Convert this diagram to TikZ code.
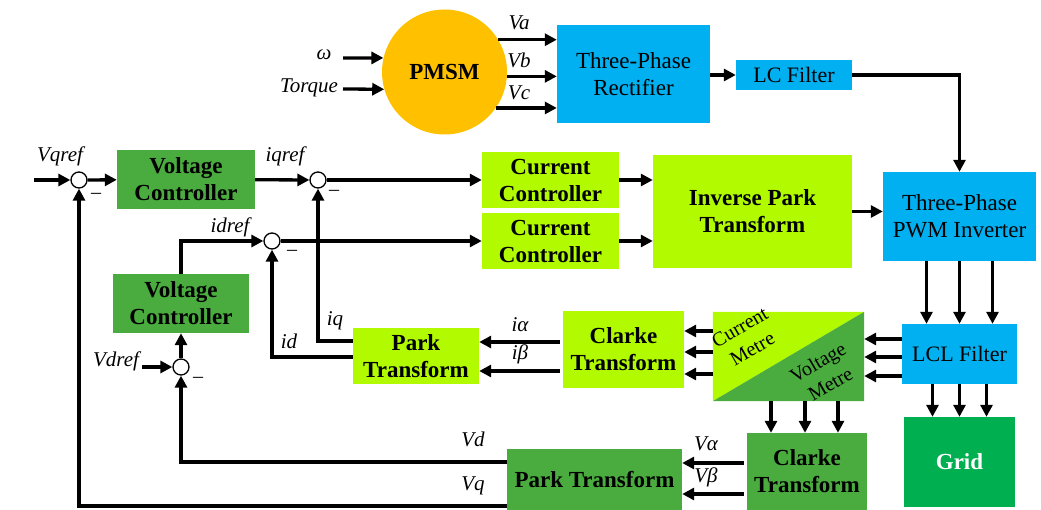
\documentclass[tikz,border=0pt]{standalone}
\usepackage{fontspec}
\setmainfont{Liberation Serif}
\usetikzlibrary{arrows.meta}
\definecolor{cblue}{RGB}{0,176,240}
\definecolor{corange}{RGB}{255,192,0}
\definecolor{clight}{RGB}{178,250,0}
\definecolor{cdark}{RGB}{74,172,62}
\definecolor{cgrid}{RGB}{0,176,80}
\begin{document}
\begin{tikzpicture}[x=1pt,y=-1pt,
  bb/.style={draw=none, inner sep=0pt, align=center, font=\fontsize{23}{27}\selectfont\bfseries},
  nb/.style={draw=none, inner sep=0pt, align=center, font=\fontsize{23}{27}\selectfont},
  lbl/.style={inner sep=0pt, font=\fontsize{21}{23}\selectfont\itshape},
  arr/.style={line width=3.3pt, -{Triangle[length=12pt,width=12pt]}},
  sumj/.style={circle, draw, line width=1.3pt, fill=white, minimum size=16pt, inner sep=0pt},
  mns/.style={inner sep=0pt, font=\fontsize{20}{22}\selectfont}]
\useasboundingbox (0,0) rectangle (1041,510);

% ---- blocks
\node[bb, circle, fill=corange, minimum size=125pt] (pm) at (444.5,72) {PMSM};
\node[nb, fill=cblue, minimum width=153pt, minimum height=98pt] (rect) at (633.5,74) {Three-Phase\\Rectifier};
\node[nb, fill=cblue, minimum width=116pt, minimum height=30pt, font=\fontsize{22}{26}\selectfont] (lcf) at (794,75) {LC Filter};
\node[nb, fill=cblue, minimum width=153pt, minimum height=89pt] (inv) at (959.5,216.5) {Three-Phase\\PWM Inverter};
\node[bb, fill=clight, minimum width=199pt, minimum height=113pt] (ipt) at (752.5,211.5) {Inverse Park\\Transform};
\node[bb, fill=clight, minimum width=137pt, minimum height=56pt] (cc1) at (550.5,180) {Current\\Controller};
\node[bb, fill=clight, minimum width=137pt, minimum height=56pt] (cc2) at (550.5,241) {Current\\Controller};
\node[bb, fill=cdark, minimum width=138pt, minimum height=59pt] (vc1) at (186,179.5) {Voltage\\Controller};
\node[bb, fill=cdark, minimum width=136pt, minimum height=59pt] (vc2) at (181,303.5) {Voltage\\Controller};
\node[bb, fill=clight, minimum width=126pt, minimum height=56pt] (park1) at (416,356) {Park\\Transform};
\node[bb, fill=clight, minimum width=121pt, minimum height=77pt] (clarke1) at (623.5,349.5) {Clarke\\Transform};
\node[inner sep=0pt, minimum width=151pt, minimum height=89pt] (meter) at (788.5,356.5) {};
\fill[clight] (meter.south west) -- (meter.north west) -- (meter.north east) -- cycle;
\fill[cdark] (meter.south west) -- (meter.south east) -- (meter.north east) -- cycle;
\node[nb, rotate=30, font=\fontsize{20}{25}\selectfont] (mcur) at (746,338) {Current\\Metre};
\node[nb, rotate=30, font=\fontsize{20}{25}\selectfont] (mvol) at (824,373) {Voltage\\Metre};
\node[nb, fill=cblue, minimum width=115pt, minimum height=60pt, font=\fontsize{22}{26}\selectfont] (lcl) at (959.5,354) {LCL Filter};
\node[bb, fill=cgrid, text=white, minimum width=111pt, minimum height=90pt] (grid) at (959.5,462) {Grid};
\node[bb, fill=cdark, minimum width=120pt, minimum height=77pt] (clarke2) at (807,471.5) {Clarke\\Transform};
\node[bb, fill=cdark, minimum width=175pt, minimum height=61pt] (park2) at (594.5,479.5) {Park Transform};

% ---- summing junctions
\node[sumj] (sq1) at (79,180) {};
\node[sumj] (sq2) at (318,180) {};
\node[sumj] (sd2) at (272,241) {};
\node[sumj] (sd1) at (181,367) {};
\node[mns] (m1) at (96,196) {\textendash};
\node[mns] (m2) at (334,193) {\textendash};
\node[mns] (m3) at (292,253) {\textendash};
\node[mns] (m4) at (198,380) {\textendash};

% ---- free ends
\coordinate (om) at (343,58);
\coordinate (tq) at (343,89);
\coordinate (vqr) at (34,180);
\coordinate (vdr) at (142,367);

% ---- PMSM section
\draw[arr] (om) -- (pm.167);
\draw[arr] (tq) -- (pm.196);
\draw[arr] (pm.31) -- (pm.31 -| rect.west);
\draw[arr] (pm.-4) -- (pm.-4 -| rect.west);
\draw[arr] (pm.-35) -- (pm.-35 -| rect.west);
\node[lbl] (lom) at (324,55) {ω};
\node[lbl] (ltq) at (309,88) {Torque};
\node[lbl] (lva) at (519,23) {Va};
\node[lbl] (lvb) at (519,60) {Vb};
\node[lbl] (lvc) at (519,93) {Vc};
\draw[arr] (rect.east |- lcf.west) -- (lcf.west);
\draw[arr] (lcf.east) -| (inv.north);

% ---- controllers
\draw[arr] (vqr) -- (sq1);
\node[lbl] (lvqref) at (60,156) {Vqref};
\draw[arr] (sq1) -- (vc1);
\draw[arr] (vc1) -- (sq2);
\node[lbl] (liqref) at (285,156) {iqref};
\draw[arr] (sq2) -- (cc1);
\draw[arr] (vc2.north) |- (sd2);
\node[lbl] (lidref) at (230,227) {idref};
\draw[arr] (sd2) -- (cc2);
\draw[arr] (vdr) -- (sd1);
\node[lbl] (lvdref) at (116,361) {Vdref};
\draw[arr] (sd1) -- (vc2);
\draw[arr] (cc1.east) -- (cc1.east -| ipt.west);
\draw[arr] (cc2.east) -- (cc2.east -| ipt.west);
\draw[arr] (ipt.east) -- (ipt.east -| inv.west);

% ---- current feedback
\draw[arr] ([yshift=15pt]park1.west) -| (sq2);
\draw[arr] ([yshift=-1pt]park1.west) -| (sd2);
\node[lbl] (liq) at (335,321) {iq};
\node[lbl] (lid) at (289,341) {id};
\coordinate (ia) at ([yshift=7.5pt]clarke1.west);
\coordinate (ib) at ([yshift=-21.5pt]clarke1.west);
\draw[arr] ([xshift=-3pt]ia) -- (ia -| park1.east);
\draw[arr] ([xshift=-3pt]ib) -- (ib -| park1.east);
\node[lbl] (lia) at (520,325) {iα};
\node[lbl] (lib) at (520,354) {iβ};

\foreach \s/\n in {25.5/a,4.5/b,-17.5/c}{
  \coordinate (mo\n) at ([yshift=\s pt]meter.west);
  \draw[arr] (mo\n) -- (mo\n -| clarke1.east);
}
\foreach \s/\n in {15/a,-3/b,-22/c}{
  \coordinate (lo\n) at ([yshift=\s pt]lcl.west);
  \draw[arr] (lo\n) -- (lo\n -| meter.east);
}
\foreach \s/\n in {-33/a,0/b,33/c}{
  \coordinate (io\n) at ([xshift=\s pt]inv.south);
  \draw[arr] (io\n) -- (io\n |- lcl.north);
}
\foreach \s/\n in {-27/a,0/b,27/c}{
  \coordinate (go\n) at ([xshift=\s pt]lcl.south);
  \draw[arr] (go\n) -- (go\n |- grid.north);
}
\foreach \s/\n in {-17.5/a,16.5/b,49.5/c}{
  \coordinate (vo\n) at ([xshift=\s pt]meter.south);
  \draw[arr] (vo\n) -- (vo\n |- clarke2.north);
}

% ---- voltage feedback
\coordinate (va) at ([yshift=8.5pt]clarke2.west);
\coordinate (vb) at ([yshift=-22.5pt]clarke2.west);
\draw[arr] ([xshift=-3pt]va) -- (va -| park2.east);
\draw[arr] ([xshift=-3pt]vb) -- (vb -| park2.east);
\node[lbl] (lva2) at (706,444) {Vα};
\node[lbl] (lvb2) at (706,477) {Vβ};
\draw[arr] ([yshift=17.5pt]park2.west) -| (sd1);
\draw[arr] ([yshift=-26.5pt]park2.west) -| (sq1);
\node[lbl] (lvd) at (473,439) {Vd};
\node[lbl] (lvq) at (473,486) {Vq};
\end{tikzpicture}
\end{document}
